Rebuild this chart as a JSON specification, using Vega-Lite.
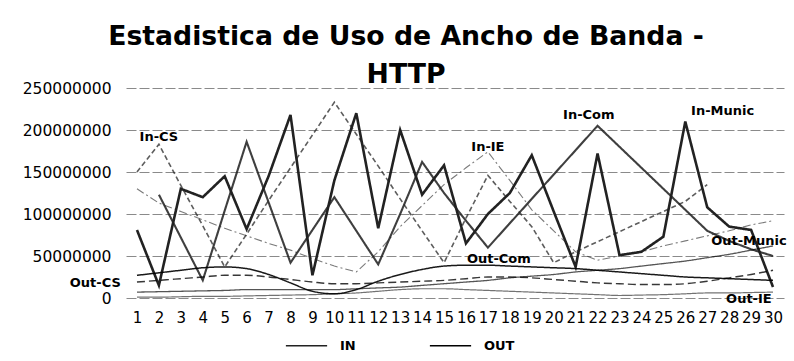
{
  "$schema": "https://vega.github.io/schema/vega-lite/v6.json",
  "width": 658,
  "height": 210,
  "autosize": {"type": "none"},
  "padding": {"left": 126, "top": 88, "right": 10, "bottom": 63},
  "background": "white",
  "config": {"view": {"stroke": null}, "axisX": {"labelOverlap": false}, "axis": {"labelOverlap": false}},
  "title": {
    "text": ["Estadistica de Uso de Ancho de Banda -", "HTTP"],
    "font": "DejaVu Sans",
    "fontSize": 26.7,
    "fontWeight": "bold",
    "lineHeight": 38,
    "color": "#000",
    "anchor": "middle",
    "dx": -49,
    "offset": -8
  },
  "datasets": {
    "series": [
      {"d":1,"s":"In-Munic","t":"IN","v":81000000},{"d":2,"s":"In-Munic","t":"IN","v":15000000},{"d":3,"s":"In-Munic","t":"IN","v":130000000},{"d":4,"s":"In-Munic","t":"IN","v":120000000},{"d":5,"s":"In-Munic","t":"IN","v":145000000},{"d":6,"s":"In-Munic","t":"IN","v":82000000},{"d":7,"s":"In-Munic","t":"IN","v":145000000},{"d":8,"s":"In-Munic","t":"IN","v":218000000},{"d":9,"s":"In-Munic","t":"IN","v":27000000},{"d":10,"s":"In-Munic","t":"IN","v":140000000},{"d":11,"s":"In-Munic","t":"IN","v":220000000},{"d":12,"s":"In-Munic","t":"IN","v":83000000},{"d":13,"s":"In-Munic","t":"IN","v":200000000},{"d":14,"s":"In-Munic","t":"IN","v":123000000},{"d":15,"s":"In-Munic","t":"IN","v":158000000},{"d":16,"s":"In-Munic","t":"IN","v":65000000},{"d":17,"s":"In-Munic","t":"IN","v":100000000},{"d":18,"s":"In-Munic","t":"IN","v":125000000},{"d":19,"s":"In-Munic","t":"IN","v":170000000},{"d":20,"s":"In-Munic","t":"IN","v":103000000},{"d":21,"s":"In-Munic","t":"IN","v":37000000},{"d":22,"s":"In-Munic","t":"IN","v":172000000},{"d":23,"s":"In-Munic","t":"IN","v":51000000},{"d":24,"s":"In-Munic","t":"IN","v":55000000},{"d":25,"s":"In-Munic","t":"IN","v":73000000},{"d":26,"s":"In-Munic","t":"IN","v":210000000},{"d":27,"s":"In-Munic","t":"IN","v":108000000},{"d":28,"s":"In-Munic","t":"IN","v":85000000},{"d":29,"s":"In-Munic","t":"IN","v":81000000},{"d":30,"s":"In-Munic","t":"IN","v":13000000},
      {"d":2,"s":"In-Com","t":"IN","v":123000000},{"d":3,"s":"In-Com","t":"IN","v":72000000},{"d":4,"s":"In-Com","t":"IN","v":21000000},{"d":5,"s":"In-Com","t":"IN","v":104000000},{"d":6,"s":"In-Com","t":"IN","v":186000000},{"d":7,"s":"In-Com","t":"IN","v":114000000},{"d":8,"s":"In-Com","t":"IN","v":42000000},{"d":9,"s":"In-Com","t":"IN","v":81000000},{"d":10,"s":"In-Com","t":"IN","v":120000000},{"d":11,"s":"In-Com","t":"IN","v":80000000},{"d":12,"s":"In-Com","t":"IN","v":40000000},{"d":13,"s":"In-Com","t":"IN","v":100000000},{"d":14,"s":"In-Com","t":"IN","v":162000000},{"d":15,"s":"In-Com","t":"IN","v":125000000},{"d":16,"s":"In-Com","t":"IN","v":92000000},{"d":17,"s":"In-Com","t":"IN","v":60000000},{"d":18,"s":"In-Com","t":"IN","v":89000000},{"d":19,"s":"In-Com","t":"IN","v":118000000},{"d":20,"s":"In-Com","t":"IN","v":147000000},{"d":21,"s":"In-Com","t":"IN","v":176000000},{"d":22,"s":"In-Com","t":"IN","v":205000000},{"d":23,"s":"In-Com","t":"IN","v":180000000},{"d":24,"s":"In-Com","t":"IN","v":155000000},{"d":25,"s":"In-Com","t":"IN","v":130000000},{"d":26,"s":"In-Com","t":"IN","v":105000000},{"d":27,"s":"In-Com","t":"IN","v":80000000},{"d":28,"s":"In-Com","t":"IN","v":68000000},{"d":29,"s":"In-Com","t":"IN","v":58000000},{"d":30,"s":"In-Com","t":"IN","v":50000000},
      {"d":1,"s":"In-CS","t":"IN","v":150000000},{"d":2,"s":"In-CS","t":"IN","v":183000000},{"d":3,"s":"In-CS","t":"IN","v":134000000},{"d":4,"s":"In-CS","t":"IN","v":86000000},{"d":5,"s":"In-CS","t":"IN","v":37000000},{"d":6,"s":"In-CS","t":"IN","v":76000000},{"d":7,"s":"In-CS","t":"IN","v":116000000},{"d":8,"s":"In-CS","t":"IN","v":155000000},{"d":9,"s":"In-CS","t":"IN","v":194000000},{"d":10,"s":"In-CS","t":"IN","v":233000000},{"d":11,"s":"In-CS","t":"IN","v":195000000},{"d":12,"s":"In-CS","t":"IN","v":157000000},{"d":13,"s":"In-CS","t":"IN","v":118000000},{"d":14,"s":"In-CS","t":"IN","v":80000000},{"d":15,"s":"In-CS","t":"IN","v":42000000},{"d":16,"s":"In-CS","t":"IN","v":95000000},{"d":17,"s":"In-CS","t":"IN","v":146000000},{"d":18,"s":"In-CS","t":"IN","v":115000000},{"d":19,"s":"In-CS","t":"IN","v":85000000},{"d":20,"s":"In-CS","t":"IN","v":42000000},{"d":21,"s":"In-CS","t":"IN","v":55000000},{"d":22,"s":"In-CS","t":"IN","v":67000000},{"d":23,"s":"In-CS","t":"IN","v":79000000},{"d":24,"s":"In-CS","t":"IN","v":91000000},{"d":25,"s":"In-CS","t":"IN","v":103000000},{"d":26,"s":"In-CS","t":"IN","v":115000000},{"d":27,"s":"In-CS","t":"IN","v":135000000},
      {"d":1,"s":"In-IE","t":"IN","v":130000000},{"d":2,"s":"In-IE","t":"IN","v":113000000},{"d":3,"s":"In-IE","t":"IN","v":103000000},{"d":4,"s":"In-IE","t":"IN","v":93000000},{"d":5,"s":"In-IE","t":"IN","v":83000000},{"d":6,"s":"In-IE","t":"IN","v":74000000},{"d":7,"s":"In-IE","t":"IN","v":65000000},{"d":8,"s":"In-IE","t":"IN","v":57000000},{"d":9,"s":"In-IE","t":"IN","v":47000000},{"d":10,"s":"In-IE","t":"IN","v":38000000},{"d":11,"s":"In-IE","t":"IN","v":31000000},{"d":12,"s":"In-IE","t":"IN","v":55000000},{"d":13,"s":"In-IE","t":"IN","v":85000000},{"d":14,"s":"In-IE","t":"IN","v":110000000},{"d":15,"s":"In-IE","t":"IN","v":135000000},{"d":16,"s":"In-IE","t":"IN","v":155000000},{"d":17,"s":"In-IE","t":"IN","v":174000000},{"d":18,"s":"In-IE","t":"IN","v":140000000},{"d":19,"s":"In-IE","t":"IN","v":105000000},{"d":20,"s":"In-IE","t":"IN","v":80000000},{"d":21,"s":"In-IE","t":"IN","v":55000000},{"d":22,"s":"In-IE","t":"IN","v":45000000},{"d":23,"s":"In-IE","t":"IN","v":50000000},{"d":24,"s":"In-IE","t":"IN","v":55000000},{"d":25,"s":"In-IE","t":"IN","v":62000000},{"d":26,"s":"In-IE","t":"IN","v":68000000},{"d":27,"s":"In-IE","t":"IN","v":74000000},{"d":28,"s":"In-IE","t":"IN","v":80000000},{"d":29,"s":"In-IE","t":"IN","v":87000000},{"d":30,"s":"In-IE","t":"IN","v":92000000},
      {"d":1,"s":"Out-Com","t":"OUT","v":27000000},{"d":2,"s":"Out-Com","t":"OUT","v":30000000},{"d":3,"s":"Out-Com","t":"OUT","v":33000000},{"d":4,"s":"Out-Com","t":"OUT","v":36000000},{"d":5,"s":"Out-Com","t":"OUT","v":37000000},{"d":6,"s":"Out-Com","t":"OUT","v":35000000},{"d":7,"s":"Out-Com","t":"OUT","v":28000000},{"d":8,"s":"Out-Com","t":"OUT","v":18000000},{"d":9,"s":"Out-Com","t":"OUT","v":8000000},{"d":10,"s":"Out-Com","t":"OUT","v":5000000},{"d":11,"s":"Out-Com","t":"OUT","v":10000000},{"d":12,"s":"Out-Com","t":"OUT","v":20000000},{"d":13,"s":"Out-Com","t":"OUT","v":28000000},{"d":14,"s":"Out-Com","t":"OUT","v":34000000},{"d":15,"s":"Out-Com","t":"OUT","v":38000000},{"d":16,"s":"Out-Com","t":"OUT","v":39000000},{"d":17,"s":"Out-Com","t":"OUT","v":39000000},{"d":18,"s":"Out-Com","t":"OUT","v":38000000},{"d":19,"s":"Out-Com","t":"OUT","v":37000000},{"d":20,"s":"Out-Com","t":"OUT","v":36000000},{"d":21,"s":"Out-Com","t":"OUT","v":35000000},{"d":22,"s":"Out-Com","t":"OUT","v":33000000},{"d":23,"s":"Out-Com","t":"OUT","v":31000000},{"d":24,"s":"Out-Com","t":"OUT","v":29000000},{"d":25,"s":"Out-Com","t":"OUT","v":27000000},{"d":26,"s":"Out-Com","t":"OUT","v":25000000},{"d":27,"s":"Out-Com","t":"OUT","v":24000000},{"d":28,"s":"Out-Com","t":"OUT","v":23000000},{"d":29,"s":"Out-Com","t":"OUT","v":22000000},{"d":30,"s":"Out-Com","t":"OUT","v":21000000},
      {"d":1,"s":"Out-CS","t":"OUT","v":19000000},{"d":2,"s":"Out-CS","t":"OUT","v":21000000},{"d":3,"s":"Out-CS","t":"OUT","v":23000000},{"d":4,"s":"Out-CS","t":"OUT","v":25000000},{"d":5,"s":"Out-CS","t":"OUT","v":27000000},{"d":6,"s":"Out-CS","t":"OUT","v":27000000},{"d":7,"s":"Out-CS","t":"OUT","v":25000000},{"d":8,"s":"Out-CS","t":"OUT","v":22000000},{"d":9,"s":"Out-CS","t":"OUT","v":19000000},{"d":10,"s":"Out-CS","t":"OUT","v":17000000},{"d":11,"s":"Out-CS","t":"OUT","v":17000000},{"d":12,"s":"Out-CS","t":"OUT","v":18000000},{"d":13,"s":"Out-CS","t":"OUT","v":19000000},{"d":14,"s":"Out-CS","t":"OUT","v":20000000},{"d":15,"s":"Out-CS","t":"OUT","v":21000000},{"d":16,"s":"Out-CS","t":"OUT","v":23000000},{"d":17,"s":"Out-CS","t":"OUT","v":25000000},{"d":18,"s":"Out-CS","t":"OUT","v":25000000},{"d":19,"s":"Out-CS","t":"OUT","v":24000000},{"d":20,"s":"Out-CS","t":"OUT","v":22000000},{"d":21,"s":"Out-CS","t":"OUT","v":20000000},{"d":22,"s":"Out-CS","t":"OUT","v":18000000},{"d":23,"s":"Out-CS","t":"OUT","v":17000000},{"d":24,"s":"Out-CS","t":"OUT","v":16000000},{"d":25,"s":"Out-CS","t":"OUT","v":16000000},{"d":26,"s":"Out-CS","t":"OUT","v":17000000},{"d":27,"s":"Out-CS","t":"OUT","v":20000000},{"d":28,"s":"Out-CS","t":"OUT","v":24000000},{"d":29,"s":"Out-CS","t":"OUT","v":28000000},{"d":30,"s":"Out-CS","t":"OUT","v":33000000},
      {"d":1,"s":"Out-Munic","t":"OUT","v":7000000},{"d":2,"s":"Out-Munic","t":"OUT","v":7500000},{"d":3,"s":"Out-Munic","t":"OUT","v":8000000},{"d":4,"s":"Out-Munic","t":"OUT","v":8500000},{"d":5,"s":"Out-Munic","t":"OUT","v":9000000},{"d":6,"s":"Out-Munic","t":"OUT","v":10000000},{"d":7,"s":"Out-Munic","t":"OUT","v":10000000},{"d":8,"s":"Out-Munic","t":"OUT","v":10000000},{"d":9,"s":"Out-Munic","t":"OUT","v":10000000},{"d":10,"s":"Out-Munic","t":"OUT","v":10000000},{"d":11,"s":"Out-Munic","t":"OUT","v":11000000},{"d":12,"s":"Out-Munic","t":"OUT","v":12000000},{"d":13,"s":"Out-Munic","t":"OUT","v":13000000},{"d":14,"s":"Out-Munic","t":"OUT","v":15000000},{"d":15,"s":"Out-Munic","t":"OUT","v":17000000},{"d":16,"s":"Out-Munic","t":"OUT","v":19000000},{"d":17,"s":"Out-Munic","t":"OUT","v":21000000},{"d":18,"s":"Out-Munic","t":"OUT","v":24000000},{"d":19,"s":"Out-Munic","t":"OUT","v":26000000},{"d":20,"s":"Out-Munic","t":"OUT","v":28000000},{"d":21,"s":"Out-Munic","t":"OUT","v":31000000},{"d":22,"s":"Out-Munic","t":"OUT","v":33000000},{"d":23,"s":"Out-Munic","t":"OUT","v":35000000},{"d":24,"s":"Out-Munic","t":"OUT","v":38000000},{"d":25,"s":"Out-Munic","t":"OUT","v":41000000},{"d":26,"s":"Out-Munic","t":"OUT","v":44000000},{"d":27,"s":"Out-Munic","t":"OUT","v":48000000},{"d":28,"s":"Out-Munic","t":"OUT","v":52000000},{"d":29,"s":"Out-Munic","t":"OUT","v":57000000},{"d":30,"s":"Out-Munic","t":"OUT","v":62000000},
      {"d":1,"s":"Out-IE","t":"OUT","v":1000000},{"d":2,"s":"Out-IE","t":"OUT","v":1000000},{"d":3,"s":"Out-IE","t":"OUT","v":1500000},{"d":4,"s":"Out-IE","t":"OUT","v":2000000},{"d":5,"s":"Out-IE","t":"OUT","v":2000000},{"d":6,"s":"Out-IE","t":"OUT","v":2500000},{"d":7,"s":"Out-IE","t":"OUT","v":3000000},{"d":8,"s":"Out-IE","t":"OUT","v":3500000},{"d":9,"s":"Out-IE","t":"OUT","v":4000000},{"d":10,"s":"Out-IE","t":"OUT","v":5000000},{"d":11,"s":"Out-IE","t":"OUT","v":6000000},{"d":12,"s":"Out-IE","t":"OUT","v":8000000},{"d":13,"s":"Out-IE","t":"OUT","v":10000000},{"d":14,"s":"Out-IE","t":"OUT","v":11000000},{"d":15,"s":"Out-IE","t":"OUT","v":11000000},{"d":16,"s":"Out-IE","t":"OUT","v":10000000},{"d":17,"s":"Out-IE","t":"OUT","v":9000000},{"d":18,"s":"Out-IE","t":"OUT","v":8000000},{"d":19,"s":"Out-IE","t":"OUT","v":7000000},{"d":20,"s":"Out-IE","t":"OUT","v":6000000},{"d":21,"s":"Out-IE","t":"OUT","v":5000000},{"d":22,"s":"Out-IE","t":"OUT","v":4000000},{"d":23,"s":"Out-IE","t":"OUT","v":3000000},{"d":24,"s":"Out-IE","t":"OUT","v":3500000},{"d":25,"s":"Out-IE","t":"OUT","v":4000000},{"d":26,"s":"Out-IE","t":"OUT","v":5000000},{"d":27,"s":"Out-IE","t":"OUT","v":6000000},{"d":28,"s":"Out-IE","t":"OUT","v":6000000},{"d":29,"s":"Out-IE","t":"OUT","v":6500000},{"d":30,"s":"Out-IE","t":"OUT","v":7000000}
    ],
    "labels": [
      {"lab":"In-CS","d":2,"v":192000000},
      {"lab":"In-IE","d":17,"v":180000000},
      {"lab":"In-Com","d":21.6,"v":218000000},
      {"lab":"In-Munic","d":27.7,"v":223000000},
      {"lab":"Out-Munic","d":28.9,"v":68000000},
      {"lab":"Out-Com","d":17.5,"v":46000000},
      {"lab":"Out-CS","d":-0.9,"v":18000000},
      {"lab":"Out-IE","d":28.9,"v":-1000000}
    ]
  },
  "encoding": {
    "x": {"field": "d", "type": "quantitative", "scale": {"domain": [0.5, 30.5], "nice": false, "zero": false},
          "axis": {"values": [1,2,3,4,5,6,7,8,9,10,11,12,13,14,15,16,17,18,19,20,21,22,23,24,25,26,27,28,29,30], "title": null, "grid": false, "domain": false, "ticks": false, "labelFont": "DejaVu Sans", "labelFontSize": 15, "labelColor": "#000", "labelPadding": 12, "labelOverlap": false, "labelFlush": false, "labelBound": false}},
    "y": {"field": "v", "type": "quantitative", "scale": {"domain": [0, 250000000], "nice": false},
          "axis": {"values": [0,50000000,100000000,150000000,200000000,250000000], "format": "d", "title": null, "domain": false, "ticks": false, "grid": true, "gridColor": "#8a8a8a", "gridDash": [10, 3], "gridWidth": 1, "labelFont": "DejaVu Sans", "labelFontSize": 15.5, "labelColor": "#000", "labelPadding": 15, "labelOverlap": false}}
  },
  "layer": [
    {
      "data": {"name": "series"},
      "transform": [{"filter": "datum.t === 'IN'"}],
      "mark": {"type": "line", "interpolate": "linear", "clip": false},
      "encoding": {
        "color": {"field": "t", "type": "nominal", "scale": {"domain": ["IN", "OUT"], "range": ["#222222", "#000000"]},
                  "legend": {"title": null, "orient": "none", "legendX": 159, "legendY": 236, "direction": "horizontal", "symbolType": "stroke", "symbolSize": 1700, "symbolStrokeWidth": 1.5, "labelFont": "DejaVu Sans", "labelFontSize": 13, "labelFontWeight": "bold", "labelColor": "#000", "labelOffset": 12, "columnPadding": 70}},
        "detail": {"field": "s"},
        "strokeWidth": {"field": "s", "type": "nominal", "scale": {"domain": ["In-Munic","In-Com","In-CS","In-IE"], "range": [2.6, 1.1, 1, 1]}, "legend": null},
        "strokeDash": {"field": "s", "type": "nominal", "scale": {"domain": ["In-Munic","In-Com","In-CS","In-IE"], "range": [[1,0],[1,0],[5,3],[8,3,2,3]]}, "legend": null},
        "opacity": {"field": "s", "type": "nominal", "scale": {"domain": ["In-Munic","In-Com","In-CS","In-IE"], "range": [1, 0.6, 0.5, 0.5]}, "legend": null}
      }
    },
    {
      "data": {"name": "series"},
      "transform": [{"filter": "datum.t === 'OUT'"}],
      "mark": {"type": "line", "interpolate": "monotone", "clip": false},
      "encoding": {
        "color": {"field": "t", "type": "nominal"},
        "detail": {"field": "s"},
        "size": {"field": "s", "type": "nominal", "scale": {"domain": ["Out-Com","Out-CS","Out-Munic","Out-IE"], "range": [1.5, 1.2, 1.6, 2]}, "legend": null},
        "strokeDash": {"field": "s", "type": "nominal", "scale": {"domain": ["Out-Com","Out-CS","Out-Munic","Out-IE"], "range": [[1,0],[8,4],[1,0],[1,0]]}, "legend": null},
        "opacity": {"field": "s", "type": "nominal", "scale": {"domain": ["Out-Com","Out-CS","Out-Munic","Out-IE"], "range": [0.9, 0.55, 1, 1]}, "legend": null}
      }
    },
    {
      "data": {"name": "labels"},
      "mark": {"type": "text", "font": "DejaVu Sans", "fontSize": 13, "fontWeight": "bold", "color": "#000", "baseline": "middle", "align": "center", "clip": false},
      "encoding": {
        "text": {"field": "lab"}
      }
    }
  ],
  "resolve": {"scale": {"strokeDash": "independent", "opacity": "independent"}}
}
